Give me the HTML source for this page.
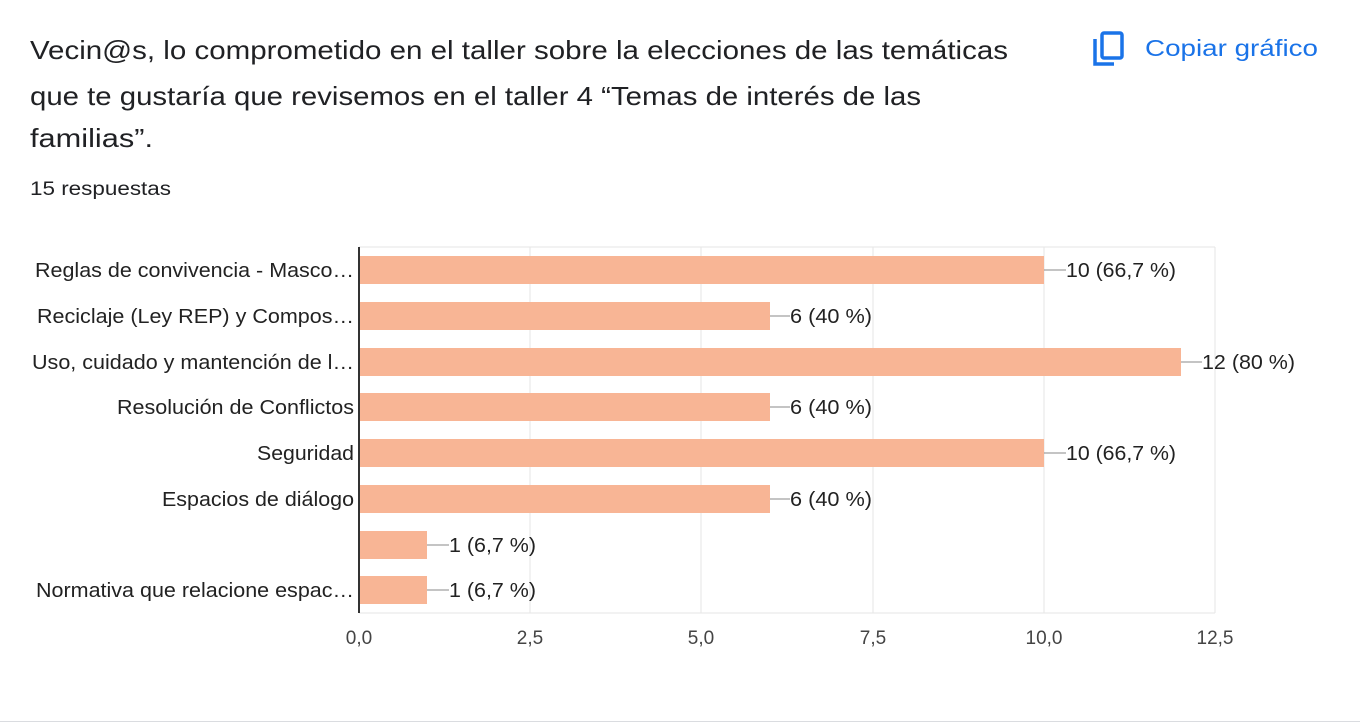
<!DOCTYPE html>
<html><head><meta charset="utf-8"><style>
body{margin:0;width:1360px;height:724px;background:#fff;position:relative;overflow:hidden;font-family:"Liberation Sans",Arial,sans-serif;}
.hr{position:absolute;left:0;top:721px;width:1360px;height:1px;background:#dadce0}
</style></head><body>
<svg style="position:absolute;left:1092px;top:31px" width="34" height="36" viewBox="0 0 34 36">
<path d="M3 8 V33 H22" fill="none" stroke="#1a73e8" stroke-width="3.5"/>
<rect x="10" y="2" width="20" height="25" rx="2" fill="none" stroke="#1a73e8" stroke-width="3.5"/>
</svg>
<svg style="position:absolute;left:0;top:0" width="1360" height="724" font-family="Liberation Sans, Arial, sans-serif" font-size="20" fill="#222">
<g font-size="26" fill="#202124" lengthAdjust="spacingAndGlyphs">
<text x="30" y="59" textLength="978" lengthAdjust="spacingAndGlyphs">Vecin@s, lo comprometido en el taller sobre la elecciones de las temáticas</text>
<text x="30" y="105" textLength="891" lengthAdjust="spacingAndGlyphs">que te gustaría que revisemos en el taller 4 “Temas de interés de las</text>
<text x="30" y="147" textLength="123" lengthAdjust="spacingAndGlyphs">familias”.</text>
</g>
<text x="30" y="195" font-size="19" fill="#202124" textLength="141" lengthAdjust="spacingAndGlyphs">15 respuestas</text>
<text x="1145" y="56" font-size="23" fill="#1a73e8" textLength="173" lengthAdjust="spacingAndGlyphs">Copiar gráfico</text>
<g stroke="#e6e6e6" stroke-width="1">
<line x1="359" y1="247" x2="1215" y2="247"/>
<line x1="359" y1="613" x2="1215" y2="613"/>
<line x1="530" y1="247" x2="530" y2="613"/>
<line x1="701" y1="247" x2="701" y2="613"/>
<line x1="873" y1="247" x2="873" y2="613"/>
<line x1="1044" y1="247" x2="1044" y2="613"/>
<line x1="1215" y1="247" x2="1215" y2="613"/>
</g>
<g fill="#f8b595">
<rect x="359" y="256" width="685" height="28"/>
<rect x="359" y="302" width="411" height="28"/>
<rect x="359" y="348" width="822" height="28"/>
<rect x="359" y="393" width="411" height="28"/>
<rect x="359" y="439" width="685" height="28"/>
<rect x="359" y="485" width="411" height="28"/>
<rect x="359" y="531" width="68" height="28"/>
<rect x="359" y="576" width="68" height="28"/>
</g>
<line x1="359" y1="247" x2="359" y2="613" stroke="#333" stroke-width="2"/>
<g stroke="#888" stroke-width="1">
<line x1="1044" y1="270" x2="1066" y2="270"/>
<line x1="770" y1="316" x2="790" y2="316"/>
<line x1="1181" y1="362" x2="1202" y2="362"/>
<line x1="770" y1="407" x2="790" y2="407"/>
<line x1="1044" y1="453" x2="1066" y2="453"/>
<line x1="770" y1="499" x2="790" y2="499"/>
<line x1="427" y1="545" x2="449" y2="545"/>
<line x1="427" y1="590" x2="449" y2="590"/>
</g>
<g lengthAdjust="spacingAndGlyphs">
<text x="1066" y="277" textLength="110" lengthAdjust="spacingAndGlyphs">10 (66,7 %)</text>
<text x="790" y="323" textLength="82" lengthAdjust="spacingAndGlyphs">6 (40 %)</text>
<text x="1202" y="369" textLength="93" lengthAdjust="spacingAndGlyphs">12 (80 %)</text>
<text x="790" y="414" textLength="82" lengthAdjust="spacingAndGlyphs">6 (40 %)</text>
<text x="1066" y="460" textLength="110" lengthAdjust="spacingAndGlyphs">10 (66,7 %)</text>
<text x="790" y="506" textLength="82" lengthAdjust="spacingAndGlyphs">6 (40 %)</text>
<text x="449" y="552" textLength="87" lengthAdjust="spacingAndGlyphs">1 (6,7 %)</text>
<text x="449" y="597" textLength="87" lengthAdjust="spacingAndGlyphs">1 (6,7 %)</text>
</g>
<g>
<text x="35" y="277" textLength="319" lengthAdjust="spacingAndGlyphs">Reglas de convivencia - Masco…</text>
<text x="37" y="323" textLength="317" lengthAdjust="spacingAndGlyphs">Reciclaje (Ley REP) y Compos…</text>
<text x="32" y="369" textLength="322" lengthAdjust="spacingAndGlyphs">Uso, cuidado y mantención de l…</text>
<text x="117" y="414" textLength="237" lengthAdjust="spacingAndGlyphs">Resolución de Conflictos</text>
<text x="257" y="460" textLength="97" lengthAdjust="spacingAndGlyphs">Seguridad</text>
<text x="162" y="506" textLength="192" lengthAdjust="spacingAndGlyphs">Espacios de diálogo</text>
<text x="36" y="597" textLength="318" lengthAdjust="spacingAndGlyphs">Normativa que relacione espac…</text>
</g>
<g text-anchor="middle" fill="#444" font-size="19">
<text x="359" y="644">0,0</text>
<text x="530" y="644">2,5</text>
<text x="701" y="644">5,0</text>
<text x="873" y="644">7,5</text>
<text x="1044" y="644">10,0</text>
<text x="1215" y="644">12,5</text>
</g>
</svg>
<div class="hr"></div>
</body></html>
